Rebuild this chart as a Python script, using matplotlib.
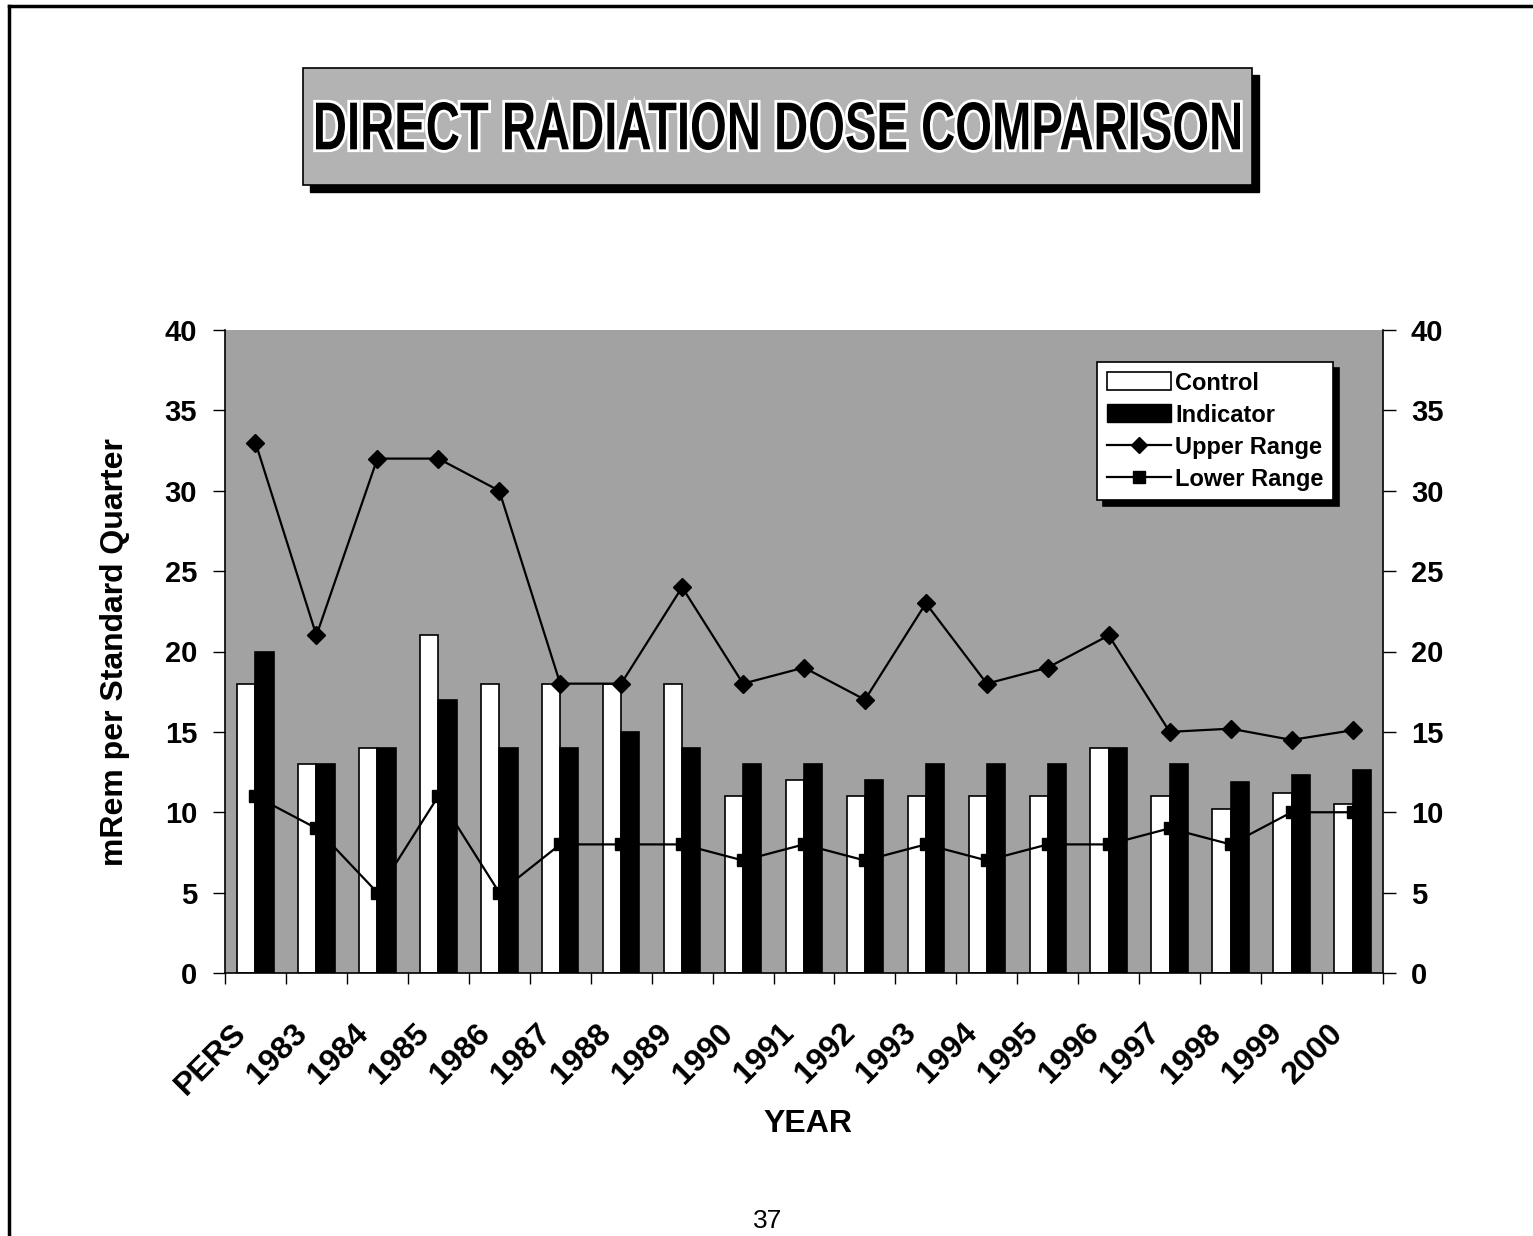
import matplotlib
matplotlib.use("Agg")
import matplotlib.pyplot as plt
import numpy as np
from matplotlib.font_manager import FontProperties
from matplotlib.lines import Line2D
from matplotlib.patches import Patch, PathPatch, Rectangle
from matplotlib.textpath import TextPath
from matplotlib.transforms import Affine2D, ScaledTranslation
import matplotlib.patheffects as pe

plt.rcParams["font.family"] = ["Liberation Sans", "DejaVu Sans"]

years = ["PERS", "1983", "1984", "1985", "1986", "1987", "1988", "1989", "1990",
         "1991", "1992", "1993", "1994", "1995", "1996", "1997", "1998", "1999", "2000"]
control = [18, 13, 14, 21, 18, 18, 18, 18, 11, 12, 11, 11, 11, 11, 14, 11, 10.2, 11.2, 10.5]
indicator = [20, 13, 14, 17, 14, 14, 15, 14, 13, 13, 12, 13, 13, 13, 14, 13, 11.9, 12.3, 12.6]
upper_range = [33, 21, 32, 32, 30, 18, 18, 24, 18, 19, 17, 23, 18, 19, 21, 15, 15.2, 14.5, 15.1]
lower_range = [11, 9, 5, 11, 5, 8, 8, 8, 7, 8, 7, 8, 7, 8, 8, 9, 8, 10, 10]

W, H = 1533, 1236
fig = plt.figure(figsize=(W / 100, H / 100), dpi=100)
fig.patch.set_facecolor("white")


def fx(px):
    return px / W


def fy(py):
    return 1 - py / H


# page border (top and left edges)
fig.add_artist(Line2D([fx(9), 1.0], [fy(6), fy(6)], color="black", lw=2.5))
fig.add_artist(Line2D([fx(9), fx(9)], [fy(6), 0.0], color="black", lw=2.5))

# title box with drop shadow
bx0, by0, bx1, by1 = 303, 68, 1252, 185
fig.add_artist(Rectangle((fx(bx0 + 7), fy(by1 + 7)), fx(bx1 - bx0), (by1 - by0) / H,
                         facecolor="black", edgecolor="black", transform=fig.transFigure))
fig.add_artist(Rectangle((fx(bx0), fy(by1)), fx(bx1 - bx0), (by1 - by0) / H,
                         facecolor="#b3b3b3", edgecolor="black", lw=1.2, transform=fig.transFigure))

title = "DIRECT RADIATION DOSE COMPARISON"
tp = TextPath((0, 0), title, size=1, prop=FontProperties(family="Liberation Sans", weight="bold"))
ext = tp.get_extents()
tx0, tx1, ty0, ty1 = 316, 1240, 102, 150
sx = fx(tx1 - tx0) / ext.width
sy = ((ty1 - ty0) / H) / ext.height
tr = Affine2D().translate(-ext.x0, -ext.y0).scale(sx, sy).translate(fx(tx0), fy(ty1)) + fig.transFigure
title_patch = PathPatch(tp, facecolor="black", edgecolor="none", transform=tr)
title_patch.set_path_effects([pe.withStroke(linewidth=4, foreground="white")])
fig.add_artist(title_patch)

# main axes
ax = fig.add_axes([fx(225), fy(973), fx(1383 - 225), (973 - 330) / H])
ax.set_facecolor("#a2a2a2")

x = np.arange(len(years))
bw = 0.3
ax.bar(x - bw / 2, control, width=bw, color="white", edgecolor="black", lw=1.2, zorder=2)
ax.bar(x + bw / 2, indicator, width=bw, color="black", edgecolor="black", lw=1.2, zorder=2)
ax.plot(x, upper_range, color="black", lw=1.6, marker="D", ms=9, zorder=3)
ax.plot(x, lower_range, color="black", lw=1.6, marker="s", ms=9, zorder=3)

ax.set_xlim(-0.5, len(years) - 0.5)
ax.set_ylim(0, 40)
ax.set_yticks(np.arange(0, 41, 5))
ax.tick_params(axis="y", which="major", length=9, width=1, direction="out",
               left=True, right=True, labelleft=True, labelright=True,
               labelsize=21, pad=11)
for lab in ax.get_yticklabels():
    lab.set_fontweight("bold")

ax.set_xticks(x)
ax.set_xticklabels(years, rotation=45, ha="right", va="center",
                   rotation_mode="anchor", fontsize=23, fontweight="bold")
ax.set_xticks(np.arange(-0.5, len(years), 1), minor=True)
ax.tick_params(axis="x", which="major", length=0, pad=40)
ax.tick_params(axis="x", which="minor", length=8, width=1, direction="out")
offset = ScaledTranslation(-14 / 100, 0, fig.dpi_scale_trans)
for lab in ax.get_xticklabels():
    lab.set_transform(lab.get_transform() + offset)

ax.spines["top"].set_visible(False)
for s in ("left", "right", "bottom"):
    ax.spines[s].set_linewidth(1.2)

fig.text(fx(115), fy(652), "mRem per Standard Quarter", rotation=90,
         ha="center", va="center", fontsize=23, fontweight="bold")
fig.text(fx(808), fy(1124), "YEAR", ha="center", va="center", fontsize=23, fontweight="bold")
fig.text(fx(768), fy(1221), "37", ha="center", va="center", fontsize=19)

handles = [
    Patch(facecolor="white", edgecolor="black", lw=1.2),
    Patch(facecolor="black", edgecolor="black"),
    Line2D([], [], color="black", lw=1.6, marker="D", ms=8),
    Line2D([], [], color="black", lw=1.6, marker="s", ms=9),
]
leg = ax.legend(handles, ["Control", "Indicator", "Upper Range", "Lower Range"],
                loc="upper right", bbox_to_anchor=(0.957, 0.95),
                prop={"weight": "bold", "size": 17}, frameon=True, fancybox=False,
                edgecolor="black", facecolor="white", framealpha=1,
                handlelength=2.7, handleheight=0.8, handletextpad=0.2,
                labelspacing=0.38, borderpad=0.4, borderaxespad=0,
                shadow={"facecolor": "black", "edgecolor": "black", "alpha": 1,
                        "ox": 4, "oy": -4})
leg.get_frame().set_linewidth(1.2)

fig.savefig("out.png", dpi=100, facecolor="white")
